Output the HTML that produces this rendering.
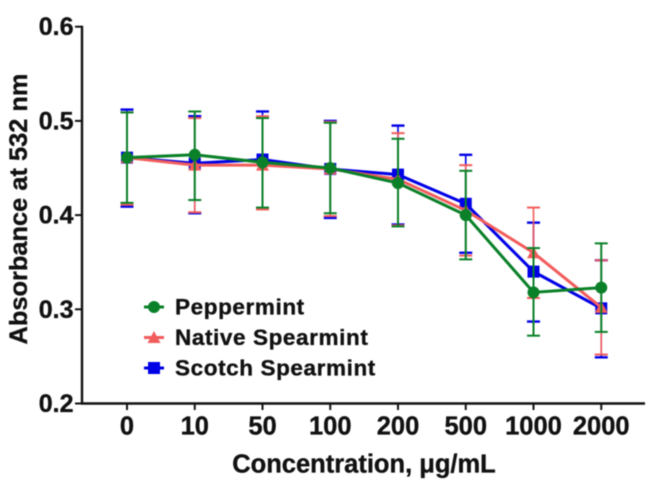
<!DOCTYPE html>
<html>
<head>
<meta charset="utf-8">
<style>
html,body{margin:0;padding:0;background:#fff;width:656px;height:487px;overflow:hidden}
svg{display:block;filter:blur(0.45px)}
text{font-family:"Liberation Sans",sans-serif;font-weight:bold;fill:#111;stroke:#111;stroke-width:0.35px}
</style>
</head>
<body>
<svg id="chart" width="656" height="487" viewBox="0 0 656 487" xmlns="http://www.w3.org/2000/svg">
<rect x="0" y="0" width="656" height="487" fill="#fff"/>
<g id="axes"></g>
<g id="series"></g>
<g id="legend"></g>
<text x="364" y="472.5" font-size="25.5" text-anchor="middle">Concentration, μg/mL</text>
<text transform="translate(27,209) rotate(-90)" font-size="25.4" text-anchor="middle">Absorbance at 532 nm</text>
</svg>
<script>
const categories = ['0','10','50','100','200','500','1000','2000'];
const yTicks = [0.2,0.3,0.4,0.5,0.6];
const seriesNames = ['Scotch Spearmint','Native Spearmint','Peppermint'];
const scotchMean = [0.461,0.455,0.459,0.449,0.443,0.412,0.340,0.301];
const scotchUpper = [0.512,0.505,0.510,0.500,0.495,0.464,0.392,0.352];
const scotchLower = [0.409,0.402,0.407,0.397,0.390,0.360,0.287,0.249];
const nativeMean = [0.461,0.453,0.453,0.449,0.438,0.405,0.360,0.302];
const nativeUpper = [0.509,0.503,0.505,0.499,0.487,0.453,0.408,0.352];
const nativeLower = [0.411,0.403,0.406,0.399,0.389,0.357,0.312,0.252];
const pepperMean = [0.461,0.464,0.456,0.450,0.434,0.400,0.318,0.323];
const pepperUpper = [0.509,0.510,0.503,0.498,0.481,0.447,0.365,0.370];
const pepperLower = [0.413,0.416,0.408,0.402,0.388,0.353,0.272,0.276];

const NS = 'http://www.w3.org/2000/svg';
function xScale(i){ return 127 + i * 67.75; }
function yScale(v){ return 403.5 - (v - 0.2) * 942; }
function make(tag, parent, attrs){
  const el = document.createElementNS(NS, tag);
  for (const k in attrs) el.setAttribute(k, attrs[k]);
  parent.appendChild(el);
  return el;
}
const axes = document.getElementById('axes');
const yAxis = make('line', axes, {x1:82,y1:yScale(0.6)-1,x2:82,y2:404.5,stroke:'#111','stroke-width':2.4});


const xAxis = make('line', axes, {x1:81,y1:403.5,x2:645,y2:403.5,stroke:'#111','stroke-width':2.4});


yTicks.forEach(function(t){
  const tick = make('line', axes, {x1:75,y1:yScale(t),x2:82,y2:yScale(t),stroke:'#111','stroke-width':2});
  
  
  const label = make('text', axes, {x:73.5,y:yScale(t)+8.5,'font-size':25,'text-anchor':'end'});
  label.textContent = t.toFixed(1);
  
  
});
categories.forEach(function(c,i){
  const tick = make('line', axes, {x1:xScale(i),y1:403.5,x2:xScale(i),y2:410,stroke:'#111','stroke-width':2});
  
  
  const label = make('text', axes, {x:xScale(i),y:434.5,'font-size':25.5,'text-anchor':'middle'});
  label.textContent = c;
  
  
});

function drawMarker(parent, kind, cx, cy, color){
  let m;
  if (kind === 'square') m = make('rect', parent, {x:cx-6,y:cy-6,width:12,height:12,fill:color});
  else if (kind === 'triangle') m = make('polygon', parent, {points:(cx-6.5)+','+(cy+5.5)+' '+(cx+6.5)+','+(cy+5.5)+' '+cx+','+(cy-6.5),fill:color});
  else m = make('circle', parent, {cx:cx,cy:cy,r:6,fill:color});
  return m;
}
function drawSeries(group, mean, upper, lower, color, kind, barW, capW){
  mean.forEach(function(v,i){
    const x = xScale(i);
    const bar = make('line', group, {x1:x,y1:yScale(upper[i]),x2:x,y2:yScale(lower[i]),stroke:color,'stroke-width':barW});
    
    
    [upper[i],lower[i]].forEach(function(e){
      const cap = make('line', group, {x1:x-6.5,y1:yScale(e),x2:x+6.5,y2:yScale(e),stroke:color,'stroke-width':capW});
      
      
    });
  });
  const pts = mean.map(function(v,i){ return xScale(i)+','+yScale(v); }).join(' ');
  const line = make('polyline', group, {points:pts,fill:'none',stroke:color,'stroke-width':3});
  
  
  mean.forEach(function(v,i){
    const pt = drawMarker(group, kind, xScale(i), yScale(v), color);
    
    
  });
}
const seriesRoot = document.getElementById('series');
const scotchGroup = make('g', seriesRoot, {});


drawSeries(scotchGroup, scotchMean, scotchUpper, scotchLower, '#0000e6', 'square', 1.6, 2.4);
const nativeGroup = make('g', seriesRoot, {});


drawSeries(nativeGroup, nativeMean, nativeUpper, nativeLower, '#f25c5c', 'triangle', 1.6, 2);
const pepperGroup = make('g', seriesRoot, {});


drawSeries(pepperGroup, pepperMean, pepperUpper, pepperLower, '#0a8028', 'circle', 2, 2);

const legend = document.getElementById('legend');
const legendItems = [['Peppermint','#0a8028','circle'],['Native Spearmint','#f25c5c','triangle'],['Scotch Spearmint','#0000e6','square']];
legendItems.forEach(function(item,i){
  const y = 307 + i * 30.5;
  const g = make('g', legend, {});
  
  
  const l = make('line', g, {x1:144,y1:y,x2:164,y2:y,stroke:item[1],'stroke-width':3});
  
  
  const m = drawMarker(g, item[2], 154, y, item[1]);
  
  
  const t = make('text', g, {x:175,y:y+7.5,'font-size':22.5,'letter-spacing':0.6});
  t.textContent = item[0];
  
  
});
</script>
</body>
</html>
